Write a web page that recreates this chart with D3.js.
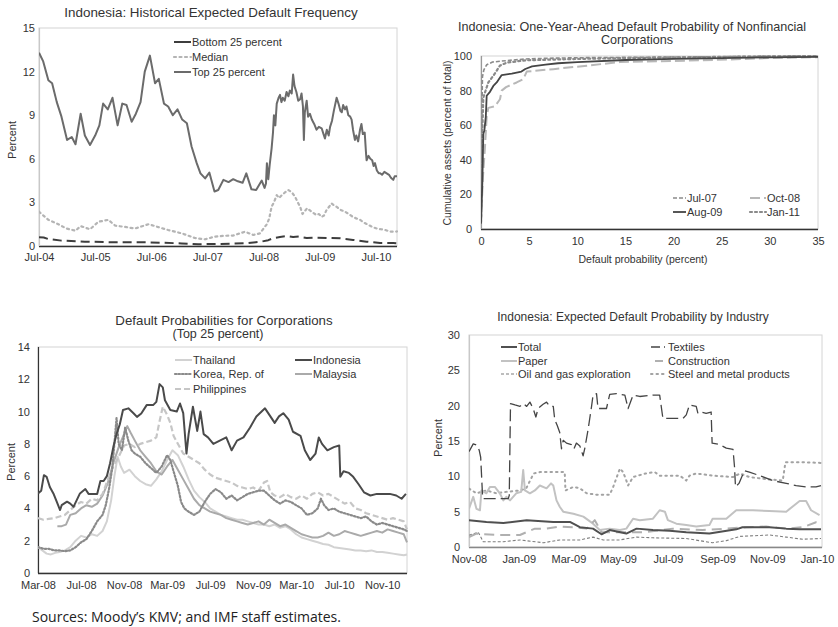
<!DOCTYPE html>
<html><head><meta charset="utf-8">
<script src="https://cdn.jsdelivr.net/npm/d3@7"></script>
<style>
html,body{margin:0;padding:0;background:#fff;}
svg{display:block;font-family:"Liberation Sans",Arial,sans-serif;}
</style></head>
<body>
<svg id="chart" width="838" height="627"></svg>
<script>
// ---------- Panel 1: Historical Expected Default Frequency (x = months since Jul-04) ----------
const p1Ticks = ["Jul-04","Jul-05","Jul-06","Jul-07","Jul-08","Jul-09","Jul-10"];
const p1Top25 = [[0,13.3],[0.9,12.7],[2,11.4],[2.8,11.2],[3.8,9.9],[4.8,8.9],[6,7.3],[7,7.5],[7.8,7.0],[8.9,9.1],[9.8,7.6],[10.9,6.95],[12,7.6],[12.9,8.3],[13.7,9.8],[14.7,9.4],[15.7,10.2],[16.8,8.3],[17.8,9.8],[18.7,9.7],[19.8,8.55],[20.7,9.1],[21.7,9.9],[22.6,12.0],[23.7,13.1],[24.8,11.2],[25.6,11.5],[26.7,9.8],[27.6,9.6],[28.6,9.0],[29.6,9.4],[30.6,8.7],[31.6,8.45],[32.6,6.85],[33.7,5.7],[34.5,5.0],[35.5,4.65],[36.4,5.05],[37.5,3.75],[38.3,3.85],[39.4,4.55],[40.5,4.4],[41.5,4.6],[42.5,4.45],[43.5,4.35],[44.3,5.0],[45.4,3.9],[46.4,3.85],[47.6,4.5],[48.2,4.0],[48.5,4.3],[48.7,5.7],[49.0,4.6],[49.3,5.6],[49.7,6.7],[50.0,7.8],[50.2,9.0],[50.5,8.3],[50.8,9.8],[51.2,10.2],[51.5,10.4],[51.8,9.9],[52.1,10.2],[52.5,10.0],[52.9,10.6],[53.3,10.3],[53.6,10.7],[54.0,10.5],[54.3,11.8],[54.6,11.0],[55.0,10.6],[55.4,10.0],[55.8,10.1],[56.1,10.5],[56.4,9.6],[56.6,7.3],[56.8,9.2],[57.2,10.0],[57.5,8.9],[57.9,9.1],[58.3,8.7],[58.8,8.4],[59.3,8.0],[59.8,8.2],[60.4,8.1],[60.8,7.7],[61.1,7.4],[61.5,8.0],[61.9,7.6],[62.2,8.2],[62.6,8.6],[63.0,9.3],[63.6,10.2],[64.0,9.8],[64.4,9.3],[64.7,9.2],[65.0,9.7],[65.4,9.4],[65.7,9.6],[66.1,9.0],[66.5,8.9],[66.8,8.7],[67.1,8.0],[67.5,7.3],[67.8,7.6],[68.2,7.2],[68.6,8.0],[68.9,8.4],[69.2,7.7],[69.6,7.8],[69.9,6.3],[70.0,5.9],[70.4,6.2],[70.8,6.0],[71.2,5.9],[71.5,5.5],[71.8,5.7],[72.2,5.2],[72.6,5.0],[72.9,5.0],[73.3,4.9],[73.8,5.1],[74.3,5.0],[74.8,4.9],[75.2,4.7],[75.7,4.55],[76.0,4.8],[76.5,4.8]];
const p1Median = [[0,2.36],[2,1.8],[3.8,1.55],[5.9,1.2],[7.8,1.05],[8.9,1.37],[10.9,1.15],[12.7,1.67],[14.8,1.8],[16.3,1.4],[18.7,1.3],[20.5,1.2],[23.4,1.5],[25.5,1.3],[27.6,1.1],[30.5,0.87],[33.3,0.55],[35.5,0.46],[37.5,0.64],[39.6,0.7],[41.5,0.72],[44,0.98],[45.8,0.76],[47.2,0.87],[48.7,1.5],[49.2,1.9],[49.7,2.7],[50.2,3.0],[50.8,3.5],[51.3,3.3],[51.9,3.5],[52.6,3.7],[53.3,3.85],[54,3.7],[54.7,3.4],[55.3,3.0],[55.8,2.7],[56.3,2.2],[56.8,2.4],[57.3,2.6],[57.9,2.45],[58.5,2.3],[59.3,2.13],[59.8,2.2],[60.4,2.0],[60.9,2.1],[61.4,2.45],[62.0,2.7],[62.5,2.93],[63.0,2.8],[63.6,2.7],[64.3,2.5],[65.4,2.36],[66.2,2.2],[67.1,2.0],[67.8,1.9],[68.6,1.8],[69.5,1.6],[70.4,1.45],[71.3,1.3],[72.2,1.2],[73.1,1.15],[74,1.1],[74.9,1.0],[75.7,0.98],[76.5,1.0]];
const p1Bottom25 = [[0,0.6],[1,0.58],[2,0.48],[4.8,0.37],[9.8,0.3],[16.8,0.25],[23.7,0.25],[30.5,0.18],[34,0.12],[41.5,0.16],[44.5,0.2],[47.5,0.3],[49,0.4],[50,0.53],[51.5,0.62],[52.9,0.69],[54.3,0.62],[55.5,0.65],[57.2,0.55],[59,0.58],[61.5,0.55],[64.4,0.53],[67.1,0.42],[70,0.3],[72.9,0.2],[75.7,0.2],[76.5,0.18]];

// ---------- Panel 2: One-year-ahead default probability (x = percent, y = cumulative assets) ----------
const p2Jul07 = [[0,4],[0.05,40],[0.1,70],[0.15,88],[0.3,92],[0.6,95],[1.2,96.5],[2,97],[3,97.5],[4.6,98.3],[7,98.7],[10,99],[15,99.2],[20,99.4],[25,99.6],[30,99.8],[35,100]];
const p2Oct08 = [[0,3],[0.2,30],[0.42,48],[0.59,65],[0.76,70],[1.45,71],[1.97,75],[2.15,80],[2.6,82],[3.7,84.7],[4.4,86.7],[4.75,91],[7.5,92.4],[11,94.4],[14.4,96.5],[21.3,97.3],[25.8,98],[30,98.8],[35,99.3]];
const p2Aug09 = [[0,3],[0.14,27],[0.24,55],[0.35,57],[0.5,65],[0.59,77],[0.93,79.3],[1.28,82.7],[1.63,84.7],[2.15,89],[3.2,89.8],[4.2,91],[4.6,92.5],[5.3,94],[6.7,95],[8,95.8],[10,96.5],[15,97.7],[20,98.3],[25,98.8],[30,99.2],[35,99.5]];
const p2Jan11 = [[0,4],[0.1,50],[0.24,76],[0.76,84.7],[1.28,88.6],[1.63,91.5],[1.97,94.5],[2.7,96.2],[4.6,97.5],[10,98.3],[15,98.8],[20,99.2],[25,99.5],[30,99.8],[35,100]];

// ---------- Panel 3: Default probabilities for corporations (x = months since Mar-08) ----------
const p3Ticks = ["Mar-08","Jul-08","Nov-08","Mar-09","Jul-09","Nov-09","Mar-10","Jul-10","Nov-10"];
const p3Indonesia = [[0,4.93],[0.3,5.1],[0.55,6.06],[0.8,5.96],[1.1,5.33],[1.43,4.93],[1.74,4.42],[2.05,3.9],[2.2,4.2],[2.7,4.42],[3,4.3],[3.3,4.1],[3.9,4.93],[4.4,5.2],[4.7,4.9],[5.5,4.9],[5.8,5.7],[6.1,5.7],[6.4,6.0],[6.7,6.8],[7.0,7.8],[7.3,8.6],[7.6,9.2],[7.9,10.1],[8.4,10.2],[8.9,9.88],[9.2,9.67],[9.6,9.88],[10.1,10.4],[10.7,10.4],[11.0,10.6],[11.3,11.7],[11.6,11.5],[11.8,10.7],[12.3,10.1],[12.9,10.0],[13.2,10.5],[13.5,9.9],[13.8,7.4],[14.0,8.6],[14.4,10.3],[14.8,8.8],[15.1,10.0],[15.4,8.6],[15.8,8.4],[16.3,8.0],[16.9,8.2],[17.5,8.4],[18.0,7.6],[18.5,8.2],[19.1,8.4],[19.7,9.0],[20.3,9.7],[21.1,10.2],[21.6,9.7],[22.0,9.3],[22.4,9.7],[22.8,9.9],[23.3,9.5],[23.7,8.75],[24.4,8.5],[24.8,7.6],[25.3,7.0],[25.8,7.4],[26.1,8.4],[26.4,8.0],[26.9,7.6],[27.5,7.8],[28.0,7.9],[28.1,5.96],[28.4,6.3],[28.9,6.2],[29.3,5.96],[29.8,5.5],[30.3,5.0],[30.9,4.8],[31.5,4.9],[32.1,4.9],[32.7,4.9],[33.3,4.8],[33.8,4.6],[34.2,4.9]];
const p3Korea = [[0,1.6],[0.5,1.5],[1,1.5],[1.5,1.4],[2,1.4],[2.5,1.35],[3,1.4],[3.5,1.6],[4,1.9],[4.5,2.1],[5,2.6],[5.5,3.2],[6,3.6],[6.3,4.2],[6.6,5.2],[6.9,6.5],[7.1,8.0],[7.3,9.6],[7.5,8.0],[7.8,7.6],[8.1,9.0],[8.4,8.2],[8.7,7.6],[9,7.4],[9.5,7.2],[10,6.8],[10.5,6.5],[11,6.2],[11.5,6.6],[12,7.3],[12.3,7.0],[12.6,6.3],[13,5.4],[13.3,4.4],[13.6,4.0],[14,3.8],[14.5,3.6],[15,3.8],[15.5,4.4],[16,4.9],[16.5,5.2],[17,5.0],[17.5,4.6],[18,4.8],[18.5,4.5],[19,4.7],[19.5,4.9],[20,5.0],[20.5,5.1],[21,5.1],[21.5,4.8],[22,4.5],[22.5,4.3],[23,4.5],[23.5,4.4],[24,4.2],[24.5,4.0],[25,3.6],[25.5,3.7],[26,4.0],[26.3,4.6],[26.6,4.2],[27,3.9],[27.5,4.0],[28,3.8],[28.5,3.7],[29,3.6],[29.5,3.5],[30,3.4],[30.5,3.5],[31,3.2],[31.5,3.0],[32,3.1],[32.5,3.0],[33,2.9],[33.5,2.8],[34,2.7],[34.3,2.6]];
const p3Thailand = [[0,1.6],[0.4,1.4],[0.8,1.2],[1.2,1.15],[1.6,1.25],[2,1.3],[2.5,1.4],[3,1.6],[3.5,2.0],[4,2.3],[4.5,2.2],[5,2.4],[5.5,2.3],[6,2.6],[6.4,3.2],[6.8,4.5],[7.1,6.0],[7.4,7.2],[7.7,6.6],[8,6.2],[8.5,6.4],[9,6.0],[9.5,5.7],[10,5.5],[10.5,5.4],[11,5.8],[11.5,6.3],[12,7.0],[12.5,7.6],[13,7.3],[13.5,6.6],[14,5.8],[14.5,5.1],[15,4.7],[15.5,4.4],[16,4.0],[16.5,3.8],[17,3.6],[17.5,3.5],[18,3.4],[18.5,3.3],[19,3.3],[19.5,3.2],[20,3.1],[20.5,3.0],[21,3.0],[21.5,2.9],[22,3.0],[22.5,2.8],[23,2.9],[23.5,2.7],[24,2.4],[24.5,2.2],[25,2.1],[25.5,2.0],[26,1.9],[26.5,1.8],[27,1.75],[27.5,1.6],[28,1.55],[28.5,1.5],[29,1.45],[29.5,1.4],[30,1.4],[30.5,1.35],[31,1.4],[31.5,1.3],[32,1.3],[32.5,1.25],[33,1.2],[33.5,1.15],[34,1.1],[34.3,1.15]];
const p3Malaysia = [[1.8,2.9],[2.2,2.9],[2.6,3.0],[3,3.6],[3.5,3.7],[4,4.0],[4.5,4.2],[5,4.1],[5.5,4.3],[6,4.8],[6.5,5.6],[7,6.8],[7.5,7.8],[8,8.6],[8.3,9.1],[8.6,8.7],[9,8.2],[9.5,7.6],[10,7.2],[10.5,6.8],[11,6.3],[11.5,6.1],[12,6.6],[12.5,7.0],[13,6.4],[13.5,5.8],[14,5.2],[14.5,4.6],[15,4.2],[15.5,4.0],[16,3.8],[16.5,3.7],[17,3.6],[17.5,3.4],[18,3.3],[18.5,3.2],[19,3.1],[19.5,3.0],[20,3.1],[20.5,3.2],[21,3.0],[21.5,3.3],[22,3.1],[22.5,2.9],[23,3.0],[23.5,2.8],[24,2.6],[24.5,2.4],[25,2.3],[25.5,2.2],[26,2.2],[26.5,2.3],[27,2.5],[27.5,2.3],[28,2.4],[28.5,2.6],[29,2.5],[29.5,2.4],[30,2.3],[30.5,2.4],[31,2.5],[31.5,2.6],[32,2.5],[32.5,2.7],[33,2.6],[33.5,2.5],[34,2.4],[34.3,1.9]];
const p3Philippines = [[0,3.4],[0.5,3.3],[1,3.35],[1.5,3.4],[2,3.5],[2.5,3.6],[3,3.9],[3.5,4.2],[4,4.4],[4.5,4.3],[5,4.6],[5.5,4.5],[6,4.9],[6.5,5.8],[7,6.6],[7.5,7.2],[8,7.9],[8.5,8.0],[9,7.8],[9.5,8.0],[10,8.1],[10.5,8.2],[11,8.4],[11.3,9.4],[11.6,10.3],[12,9.8],[12.3,9.3],[12.6,8.5],[13,8.0],[13.5,7.4],[14,7.2],[14.5,7.0],[15,6.8],[15.5,6.4],[16,6.1],[16.5,5.9],[17,5.8],[17.5,5.7],[18,5.6],[18.5,5.4],[19,5.3],[19.5,5.2],[20,5.3],[20.5,5.1],[21,5.6],[21.3,5.7],[21.6,5.0],[22,4.8],[22.5,4.7],[23,4.9],[23.5,4.7],[24,4.6],[24.5,4.8],[25,4.6],[25.5,4.9],[26,5.0],[26.5,4.8],[27,4.9],[27.5,4.7],[28,4.5],[28.5,4.3],[29,4.4],[29.5,4.0],[30,3.9],[30.5,3.7],[31,3.6],[31.5,3.5],[32,3.4],[32.5,3.3],[33,3.4],[33.5,3.3],[34,3.2],[34.3,2.7]];

// ---------- Panel 4: Expected default probability by industry (x = months since Nov-08) ----------
const p4Ticks = ["Nov-08","Jan-09","Mar-09","May-09","Jul-09","Sep-09","Nov-09","Jan-10"];
const p4Total = [[0,3.78],[0.7,3.54],[1.38,3.4],[2.32,3.78],[3.39,3.54],[4.06,3.54],[4.46,2.8],[4.99,2.6],[5.33,1.8],[5.66,2.4],[6.33,1.9],[6.74,2.6],[7.4,2.4],[8.07,2.3],[8.74,2.1],[9.67,1.9],[10.75,2.5],[11.0,2.8],[12.09,2.8],[12.76,2.6],[13.3,2.5],[14.16,2.5]];
const p4Textiles = [[0,13.5],[0.17,14.6],[0.33,14.4],[0.41,13.7],[0.47,12.7],[0.55,6.85],[1.58,6.85],[1.62,7.3],[1.67,20.3],[1.85,20.1],[2.05,19.9],[2.18,20.3],[2.32,19.9],[2.45,20.5],[2.58,19.6],[2.69,18.4],[2.78,19.6],[2.98,20.2],[3.12,20.5],[3.25,19.9],[3.39,19.9],[3.45,18.0],[3.55,17.2],[3.65,16.2],[3.72,13.9],[3.79,15.1],[3.92,14.7],[4.12,14.5],[4.22,13.9],[4.32,14.7],[4.46,14.3],[4.59,12.9],[4.66,14.0],[4.79,16.6],[4.93,19.9],[4.99,21.5],[5.13,21.7],[5.19,19.6],[5.53,19.6],[5.66,21.6],[5.93,21.7],[6.27,21.5],[6.4,19.6],[6.6,21.5],[6.87,21.3],[7.4,21.5],[7.67,21.5],[7.8,18.2],[8.61,18.2],[8.74,18.7],[8.87,20.1],[9.14,19.9],[9.21,18.9],[9.34,19.1],[9.54,18.9],[9.74,19.1],[9.78,14.7],[10.08,14.5],[10.35,14.0],[10.62,13.8],[10.68,11.4],[10.72,8.5],[10.86,9.0],[11.08,10.8],[11.28,10.6],[11.69,10.1],[12.22,9.4],[12.76,9.0],[13.16,8.7],[13.56,8.5],[13.96,8.5],[14.16,8.7]];
const p4Paper = [[0,5.44],[0.17,7.1],[0.3,5.4],[0.44,5.2],[0.5,8.0],[0.7,7.6],[0.84,8.5],[1.04,8.5],[1.24,7.6],[1.38,6.6],[1.5,7.1],[1.65,6.6],[1.9,7.6],[2.1,7.8],[2.18,10.9],[2.25,8.0],[2.45,7.6],[2.65,8.0],[2.85,8.7],[3.12,8.3],[3.3,9.0],[3.39,8.7],[3.52,6.6],[3.65,5.7],[3.79,5.0],[4.2,4.7],[4.6,4.3],[4.99,3.3],[5.26,2.4],[5.66,2.6],[6.07,2.4],[6.33,2.6],[6.6,4.0],[6.87,3.8],[7.4,4.0],[7.67,5.2],[7.88,5.0],[8.0,3.8],[8.34,3.3],[8.74,3.1],[9.14,2.9],[9.67,3.1],[9.8,4.0],[10.35,4.0],[10.75,5.2],[11.42,5.2],[12.09,5.1],[12.76,5.0],[13.3,6.5],[13.56,6.5],[13.76,5.2],[14.1,4.5]];
const p4Construction = [[0,1.42],[0.3,1.9],[0.57,1.8],[1.24,1.7],[2.05,1.7],[2.65,2.6],[3.12,2.6],[3.65,2.9],[4.2,2.8],[4.73,2.6],[5.06,3.8],[5.33,2.1],[6.07,2.1],[7.1,2.1],[8.2,2.6],[9.4,2.4],[10.35,2.6],[11.15,2.8],[11.95,2.9],[12.76,2.6],[13.43,2.8],[13.96,3.5],[14.16,3.1]];
const p4OilGas = [[0,1.66],[0.37,2.1],[0.57,0.75],[1.38,0.75],[2.05,1.0],[3.0,0.6],[3.65,1.0],[4.46,1.0],[4.99,1.4],[5.4,1.0],[6.07,1.0],[6.74,1.4],[7.4,1.3],[8.74,1.2],[9.8,0.6],[10.35,0.9],[10.9,1.5],[12.09,1.7],[12.76,1.4],[13.43,1.1],[14.16,1.2]];
const p4Steel = [[0,8.27],[0.3,7.6],[0.7,8.0],[1.1,7.6],[1.5,7.8],[2.05,8.0],[2.3,8.3],[2.6,10.4],[2.85,10.6],[3.4,10.6],[3.85,10.6],[3.88,8.0],[4.2,8.5],[4.46,8.3],[4.73,7.6],[5.13,7.4],[5.66,7.4],[5.8,8.5],[6.07,11.1],[6.2,10.6],[6.33,9.4],[6.4,8.7],[6.6,9.9],[7.1,10.4],[7.47,10.6],[7.67,10.1],[8.48,10.1],[8.74,9.4],[8.87,10.1],[9.14,10.4],[9.8,10.1],[10.62,9.9],[10.9,10.4],[11.28,9.9],[11.95,9.6],[12.62,9.4],[12.73,12.0],[13.43,12.0],[14.16,11.9]];

// ================= drawing =================
const svg = d3.select("#chart");
svg.append("rect").attr("width",838).attr("height",627).attr("fill","#fff");
const TXT = "#333";

function panel(o){
  const g = svg.append("g");
  const x = d3.scaleLinear().domain(o.xDomain).range([o.l,o.r]);
  const y = d3.scaleLinear().domain(o.yDomain).range([o.b,o.t]);
  g.append("rect").attr("x",o.l).attr("y",o.t).attr("width",o.r-o.l).attr("height",o.b-o.t)
    .attr("fill","none").attr("stroke","#d4d4d4").attr("stroke-width",1);
  const ya = g.append("g").attr("transform",`translate(${o.l},0)`)
    .call(d3.axisLeft(y).tickValues(o.yTicks).tickSize(0).tickPadding(o.yPad).tickFormat(d3.format("d")));
  const xa = g.append("g").attr("transform",`translate(0,${o.b})`)
    .call(d3.axisBottom(x).tickValues(o.xTicks).tickSize(0).tickPadding(o.xPad).tickFormat(o.xFmt));
  [ya,xa].forEach(a=>{a.select(".domain").remove();
    a.selectAll("text").attr("fill",TXT).style("font-size","11px").style("font-family","'Liberation Sans',Arial,sans-serif");});
  g.append("line").attr("x1",o.l).attr("x2",o.r).attr("y1",o.b+0.5).attr("y2",o.b+0.5)
    .attr("stroke",o.bottomColor).attr("stroke-width",1.3);
  g.append("line").attr("x1",o.l+0.5).attr("x2",o.l+0.5).attr("y1",o.t).attr("y2",o.b)
    .attr("stroke",o.leftColor).attr("stroke-width",1.2);
  const clipId = "clip"+o.id;
  svg.append("clipPath").attr("id",clipId).append("rect")
    .attr("x",o.l).attr("y",o.t-2).attr("width",o.r-o.l+1).attr("height",o.b-o.t+2);
  const line = d3.line().x(d=>x(d[0])).y(d=>y(d[1]));
  const sg = g.append("g").attr("clip-path",`url(#${clipId})`);
  o.series.forEach(s=>{
    sg.append("path").attr("d",line(s.data)).attr("fill","none")
      .attr("stroke",s.color).attr("stroke-width",s.w)
      .attr("stroke-dasharray",s.dash||null)
      .attr("stroke-linecap",s.cap||"butt").attr("stroke-linejoin","round");
  });
  o.legend.forEach(L=>{
    const s = o.series.find(q=>q.name===L.name);
    g.append("line").attr("x1",L.x).attr("x2",L.x+L.len).attr("y1",L.y).attr("y2",L.y)
      .attr("stroke",s.color).attr("stroke-width",L.w||s.w).attr("stroke-dasharray",L.dash!==undefined?L.dash:(s.dash||null))
      .attr("stroke-linecap",s.cap||"butt");
    g.append("text").attr("x",L.x+L.len+1).attr("y",L.y).attr("dy","0.35em")
      .attr("fill",TXT).style("font-size","11px").text(L.name);
  });
  o.titles.forEach(t=>{
    g.append("text").attr("x",t.x).attr("y",t.y).attr("dy","0.35em").attr("text-anchor","middle")
      .attr("fill",TXT).style("font-size",(t.size||13)+"px").text(t.text);
  });
  o.vtitles.forEach(t=>{
    g.append("text").attr("transform",`translate(${t.x},${t.y}) rotate(-90)`).attr("dy","0.35em")
      .attr("text-anchor","middle").attr("fill",TXT).style("font-size",(t.size||11)+"px").text(t.text);
  });
}

// Panel 1
panel({id:1,l:39,r:397,t:28,b:246,xDomain:[0,76.5],yDomain:[0,15],
  yTicks:d3.range(0,16,3),xTicks:p1Ticks.map((d,i)=>i*12),xFmt:(d,i)=>p1Ticks[i],yPad:4,xPad:7,
  bottomColor:"#333",leftColor:"#c8c8c8",
  series:[
    {name:"Top 25 percent",data:p1Top25,color:"#6b6b6b",w:2},
    {name:"Median",data:p1Median,color:"#b4b4b4",w:2.2,dash:"2,3.5",cap:"round"},
    {name:"Bottom 25 percent",data:p1Bottom25,color:"#3d3d3d",w:2,dash:"9,5"}],
  legend:[
    {name:"Bottom 25 percent",x:174,y:42,len:17,dash:"",w:2},
    {name:"Median",x:174,y:57,len:17},
    {name:"Top 25 percent",x:174,y:72,len:17}],
  titles:[{text:"Indonesia: Historical Expected Default Frequency",x:211,y:12,size:13.4}],
  vtitles:[{text:"Percent",x:12,y:140}]
});

// Panel 2
panel({id:2,l:481,r:818,t:56,b:229,xDomain:[0,35],yDomain:[0,100],
  yTicks:d3.range(0,101,20),xTicks:d3.range(0,36,5),xFmt:d3.format("d"),yPad:9,xPad:8,
  bottomColor:"#333",leftColor:"#999",
  series:[
    {name:"Oct-08",data:p2Oct08,color:"#b8b8b8",w:2,dash:"10,4"},
    {name:"Jul-07",data:p2Jul07,color:"#8a8a8a",w:1.6,dash:"4,2"},
    {name:"Jan-11",data:p2Jan11,color:"#8a8a8a",w:2.2,dash:"2,3",cap:"round"},
    {name:"Aug-09",data:p2Aug09,color:"#454545",w:1.8}],
  legend:[
    {name:"Jul-07",x:673,y:198,len:13},
    {name:"Oct-08",x:750,y:198,len:16},
    {name:"Aug-09",x:673,y:212,len:13},
    {name:"Jan-11",x:750,y:212,len:16}],
  titles:[{text:"Indonesia: One-Year-Ahead Default Probability of Nonfinancial",x:632,y:27,size:12.6},
          {text:"Corporations",x:637,y:40,size:12.6}],
  vtitles:[{text:"Cumulative assets (percent of total)",x:447,y:143,size:10.5}]
});
svg.append("text").attr("x",643).attr("y",259).attr("dy","0.35em").attr("text-anchor","middle")
  .attr("fill",TXT).style("font-size","10.5px").text("Default probability (percent)");

// Panel 3
panel({id:3,l:38,r:407,t:347,b:573,xDomain:[0,34.3],yDomain:[0,14],
  yTicks:d3.range(0,15,2),xTicks:p3Ticks.map((d,i)=>i*4),xFmt:(d,i)=>p3Ticks[i],yPad:8,xPad:8,
  bottomColor:"#333",leftColor:"#333",
  series:[
    {name:"Thailand",data:p3Thailand,color:"#d2d2d2",w:2},
    {name:"Malaysia",data:p3Malaysia,color:"#aaaaaa",w:2},
    {name:"Philippines",data:p3Philippines,color:"#c6c6c6",w:2.2,dash:"6,3"},
    {name:"Korea, Rep. of",data:p3Korea,color:"#8a8a8a",w:2.2,dash:"1.5,2",cap:"round"},
    {name:"Indonesia",data:p3Indonesia,color:"#4a4a4a",w:2}],
  legend:[
    {name:"Thailand",x:175,y:360,len:17},
    {name:"Korea, Rep. of",x:175,y:374,len:17},
    {name:"Philippines",x:175,y:389,len:17},
    {name:"Indonesia",x:295,y:360,len:17},
    {name:"Malaysia",x:295,y:374,len:17}],
  titles:[{text:"Default Probabilities for Corporations",x:224,y:320,size:13.3},
          {text:"(Top 25 percent)",x:218,y:334,size:12.5}],
  vtitles:[{text:"Percent",x:11,y:462}]
});

// Panel 4
panel({id:4,l:469,r:822,t:335,b:547,xDomain:[0,14.2],yDomain:[0,30],
  yTicks:d3.range(0,31,5),xTicks:p4Ticks.map((d,i)=>i*2),xFmt:(d,i)=>p4Ticks[i],yPad:9,xPad:8,
  bottomColor:"#888",leftColor:"#c8c8c8",
  series:[
    {name:"Steel and metal products",data:p4Steel,color:"#a3a3a3",w:2,dash:"1.5,4",cap:"round"},
    {name:"Paper",data:p4Paper,color:"#c2c2c2",w:2},
    {name:"Oil and gas exploration",data:p4OilGas,color:"#7d7d7d",w:1.1,dash:"3,2"},
    {name:"Construction",data:p4Construction,color:"#b0b0b0",w:2,dash:"10,6"},
    {name:"Total",data:p4Total,color:"#505050",w:2},
    {name:"Textiles",data:p4Textiles,color:"#454545",w:1.3,dash:"12,5"}],
  legend:[
    {name:"Total",x:501,y:347,len:16},
    {name:"Paper",x:501,y:361,len:16},
    {name:"Oil and gas exploration",x:501,y:374,len:16},
    {name:"Textiles",x:651,y:347,len:16,dash:"9,4,1,4"},
    {name:"Construction",x:651,y:361,len:16,dash:"0,4,8,4"},
    {name:"Steel and metal products",x:651,y:374,len:16}],
  titles:[{text:"Indonesia: Expected Default Probability by Industry",x:633,y:317,size:12}],
  vtitles:[{text:"Percent",x:438,y:438}]
});

// Sources
svg.append("text").attr("x",32).attr("y",617).attr("dy","0.35em")
  .attr("fill","#222").style("font-family","'Open Sans','Noto Sans',sans-serif").style("font-size","14px")
  .text("Sources: Moody’s KMV; and IMF staff estimates.");
</script>
</body></html>
